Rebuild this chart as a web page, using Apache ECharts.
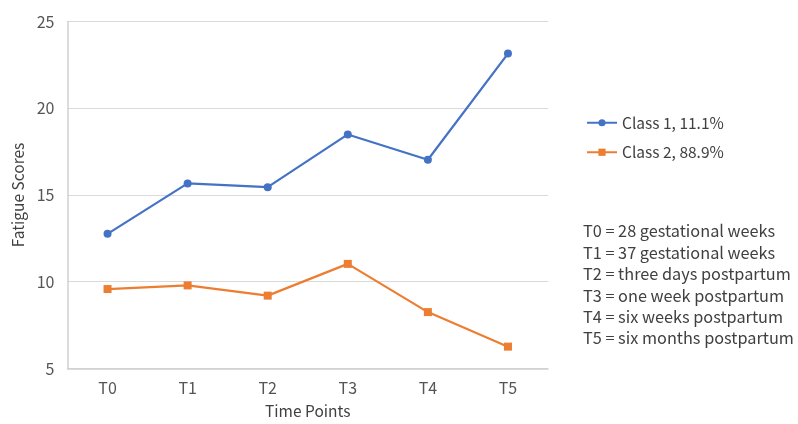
<!DOCTYPE html>
<html>
<head>
<meta charset="utf-8">
<script src="https://cdn.jsdelivr.net/npm/echarts@6/dist/echarts.min.js"></script>
<style>
  html, body { margin: 0; padding: 0; background: #fff; }
  #chart { width: 798px; height: 424px; }
</style>
</head>
<body>
<div id="chart"></div>
<script>
// Time points and mean fatigue scores for each latent class
const timePoints = ['T0', 'T1', 'T2', 'T3', 'T4', 'T5'];
const class1Name = 'Class 1, 11.1%';
const class1Scores = [12.76, 15.67, 15.45, 18.49, 17.03, 23.15];
const class2Name = 'Class 2, 88.9%';
const class2Scores = [9.58, 9.79, 9.20, 11.03, 8.25, 6.26];
const timeNotes = [
  'T0 = 28 gestational weeks',
  'T1 = 37 gestational weeks',
  'T2 = three days postpartum',
  'T3 = one week postpartum',
  'T4 = six weeks postpartum',
  'T5 = six months postpartum'
];

const FONT = '"Noto Sans CJK SC", "Noto Sans", sans-serif';
const chart = echarts.init(document.getElementById('chart'), null, { renderer: 'canvas' });

chart.setOption({
  backgroundColor: '#ffffff',
  animation: false,
  textStyle: { fontFamily: FONT },
  grid: { left: 67.5, right: 250, top: 21.5, bottom: 52, containLabel: false },
  legend: {
    orient: 'vertical',
    left: 581,
    top: 110,
    itemWidth: 30,
    itemHeight: 9,
    itemGap: 14,
    textStyle: { fontFamily: FONT, fontSize: 15.5, color: '#404040' },
    data: [class1Name, class2Name]
  },
  xAxis: {
    type: 'category',
    data: timePoints,
    boundaryGap: true,
    name: 'Time Points',
    nameLocation: 'middle',
    nameGap: 35,
    nameTextStyle: { fontFamily: FONT, fontSize: 15.5, color: '#404040' },
    axisLine: { lineStyle: { color: '#d0d0d0', width: 1.5 } },
    axisTick: { show: false },
    axisLabel: { fontFamily: FONT, fontSize: 16, color: '#555555', margin: 11 }
  },
  yAxis: {
    type: 'value',
    min: 5,
    max: 25,
    interval: 5,
    name: 'Fatigue Scores',
    nameLocation: 'middle',
    nameGap: 42,
    nameTextStyle: { fontFamily: FONT, fontSize: 15.5, color: '#404040' },
    axisLine: { show: true, lineStyle: { color: '#d0d0d0', width: 1.5 } },
    axisTick: { show: false },
    axisLabel: { fontFamily: FONT, fontSize: 16, color: '#555555', margin: 13 },
    splitLine: { lineStyle: { color: '#d9d9d9', width: 1.2 } }
  },
  series: [
    {
      name: class1Name,
      type: 'line',
      data: class1Scores,
      symbol: 'circle',
      symbolSize: 8,
      color: '#4472C4',
      lineStyle: { width: 2.2, color: '#4472C4' },
      itemStyle: { color: '#4472C4' }
    },
    {
      name: class2Name,
      type: 'line',
      data: class2Scores,
      symbol: 'rect',
      symbolSize: 8,
      color: '#ED7D31',
      lineStyle: { width: 2.2, color: '#ED7D31' },
      itemStyle: { color: '#ED7D31' }
    }
  ],
  graphic: timeNotes.map(function (t, i) {
    return {
      type: 'text',
      left: 583,
      top: 223 + i * 21.4,
      style: { text: t, fontFamily: FONT, fontSize: 16.3, fill: '#404040' }
    };
  })
});
</script>
</body>
</html>
